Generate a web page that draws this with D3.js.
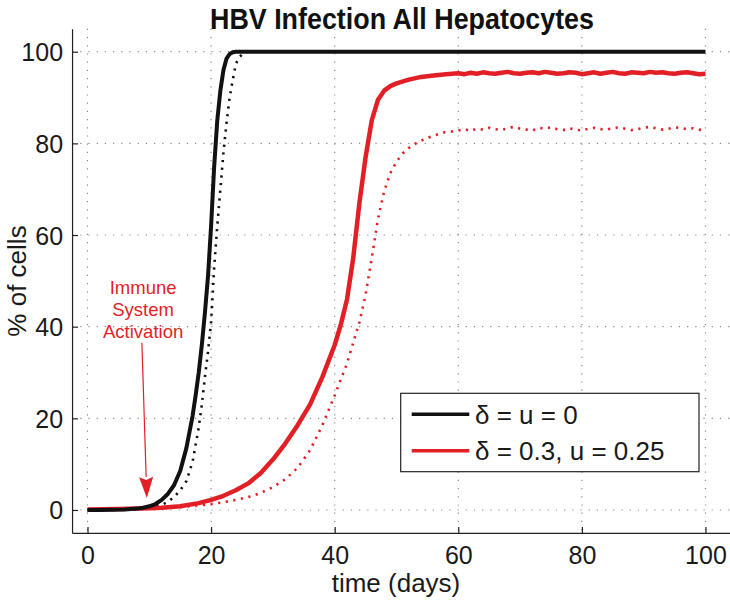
<!DOCTYPE html>
<html>
<head>
<meta charset="utf-8">
<script src="https://cdn.jsdelivr.net/npm/d3@7"></script>
<style>
html,body{margin:0;padding:0;background:#fff;}
svg{display:block;font-family:"Liberation Sans",Arial,Helvetica,sans-serif;}
</style>
</head>
<body>
<svg id="chart" width="730" height="603"></svg>
<script>
// ---------------- data ----------------
const titleText = "HBV Infection All Hepatocytes";
const xLabelText = "time (days)";
const yLabelText = "% of cells";
const xTicks = [0, 20, 40, 60, 80, 100];
const yTicks = [0, 20, 40, 60, 80, 100];
const legendLabels = ["\u03b4 = u = 0", "\u03b4 = 0.3, u = 0.25"];

const blackSolidT = [0,2,4,6,8,9,10,11,12,13,14,15,16,17,17.5,18,18.5,19,19.5,20,20.5,21,21.5,22,22.5,23,23.5,24,30,40,50,60,70,80,90,100];
const blackSolidV = [0,0.02,0.05,0.12,0.3,0.5,0.8,1.3,2.2,3.5,5.4,8.5,13.5,20.5,25,30,36,43,51,62,75,85,91.5,96,98.5,99.5,99.9,100,100,100,100,100,100,100,100,100];

const blackDotT = [0,4,8,10,11,12,13,14,15,16,17,18,18.5,19,19.5,20,20.5,21,21.5,22,22.5,23,23.5,24,24.5,25,25.5,26,30,40,50,60,70,80,90,100];
const blackDotV = [0,0.03,0.15,0.4,0.7,1.1,1.8,2.8,4.3,6.3,10.5,18,23,29,34.5,41,53,62,70,78,84.5,90,93.8,97.3,98.7,99.4,99.8,100,100,100,100,100,100,100,100,100];

const redSolidT = [0,5,10,12,15,18,20,22,24,26,28,30,32,34,36,38,40,41,42,43,44,45,46,47,48,49,50,52,54,56,58,
  60,61,62,63,64,65,66,67,68,69,70,71,72,73,74,75,76,77,78,79,80,81,82,83,84,85,86,87,88,89,90,91,92,93,94,95,96,97,98,99,100];
const redSolidV = [0.1,0.2,0.4,0.5,0.8,1.5,2.2,3.1,4.3,5.8,8,11,14.5,18.5,23,29,36,40.5,46,55,67,77,85,89.5,91.5,92.5,93.1,93.9,94.5,94.8,95.1,
  95.3,95.1,95.4,95.2,95.5,95.3,95.2,95.4,95.6,95.3,95.2,95.4,95.5,95.3,95.6,95.4,95.2,95.3,95.5,95.4,95.1,95.3,95.5,95.2,95.4,95.6,95.3,95.2,95.5,95.4,95.3,95.6,95.4,95.5,95.3,95.2,95.4,95.5,95.3,95.1,95.2];

const redDotT = [0,5,10,15,18,20,22,24,26,28,30,32,34,36,38,40,42,43,44,45,46,47,48,49,50,51,52,53,54,55,56,57,58,59,
  60,61,62,63,64,65,66,67,68,69,70,71,72,73,74,75,76,77,78,79,80,81,82,83,84,85,86,87,88,89,90,91,92,93,94,95,96,97,98,99,100];
const redDotV = [0.05,0.1,0.3,0.6,1,1.3,1.7,2.2,2.8,3.7,5,6.7,9.2,13,18.5,25,32,36.5,41,47,55,63.5,69.5,73.5,76,77.8,79,79.9,80.6,81.2,81.7,82.1,82.5,82.6,
  82.8,83.1,82.7,83.2,83.0,83.4,83.1,82.9,83.3,83.6,83.2,83.0,82.8,83.4,83.2,83.5,83.1,82.9,83.3,83.0,82.8,83.2,83.4,83.1,83.0,83.3,83.5,83.2,82.9,83.1,83.4,83.6,83.3,83.0,83.2,83.5,83.4,83.1,83.3,83.0,82.8];

// annotation (data coordinates)
const annoLines = ["Immune", "System", "Activation"];
const annoTextX = 9.0;
const arrowFrom = [8.8, 36.5];
const arrowTo = [9.6, 2.6];

// ---------------- drawing ----------------
const RED = "#e31f26", BLACK = "#111111";
const svg = d3.select("#chart");
const x = d3.scaleLinear().domain([-2.5, 104]).range([72.05, 730.2]);
const y = d3.scaleLinear().domain([-5, 105]).range([532.9, 28.8]);

// grid
const grid = svg.append("g").attr("stroke", "#8a8a8a").attr("stroke-width", 1.2).attr("stroke-dasharray", "1.2,7");
grid.selectAll("line.v").data(xTicks).join("line").attr("class","v")
  .attr("x1", d => x(d)).attr("x2", d => x(d)).attr("y1", y(105)).attr("y2", y(-5));
grid.selectAll("line.h").data(yTicks).join("line").attr("class","h")
  .attr("y1", d => y(d)).attr("y2", d => y(d)).attr("x1", x(-2.5)).attr("x2", x(104));

// axes
const xAxis = svg.append("g").attr("transform", `translate(0,${y(-5)})`)
  .call(d3.axisBottom(x).tickValues(xTicks).tickSizeInner(-6).tickSizeOuter(0).tickPadding(13.5));
const yAxis = svg.append("g").attr("transform", `translate(${x(-2.5)},0)`)
  .call(d3.axisLeft(y).tickValues(yTicks).tickSizeInner(-6).tickSizeOuter(0).tickPadding(9));
[xAxis, yAxis].forEach(a => {
  a.selectAll("path.domain").attr("stroke", "#222").attr("stroke-width", 1.2);
  a.selectAll(".tick line").attr("stroke", "#222").attr("stroke-width", 1.2);
  a.selectAll(".tick text").attr("fill", "#1a1a1a").style("font-size", "25px")
    .style("font-family", '"Liberation Sans",Arial,sans-serif');
});
yAxis.selectAll(".tick text").attr("dy", "0.36em");

// lines
const line = d3.line().x(d => x(d[0])).y(d => y(d[1]));
const zip = (t, v) => t.map((d, i) => [d, v[i]]);
const plotG = svg.append("g");
plotG.append("path").datum(zip(redDotT, redDotV)).attr("d", line)
  .attr("fill", "none").attr("stroke", RED).attr("stroke-width", 2.6).attr("stroke-dasharray", "2.2,5.5");
plotG.append("path").datum(zip(blackDotT, blackDotV)).attr("d", line)
  .attr("fill", "none").attr("stroke", BLACK).attr("stroke-width", 2.6).attr("stroke-dasharray", "2.2,5.5");
plotG.append("path").datum(zip(redSolidT, redSolidV)).attr("d", line)
  .attr("fill", "none").attr("stroke", RED).attr("stroke-width", 4.5).attr("stroke-linejoin", "round");
plotG.append("path").datum(zip(blackSolidT, blackSolidV)).attr("d", line)
  .attr("fill", "none").attr("stroke", BLACK).attr("stroke-width", 4).attr("stroke-linejoin", "round");

// title and labels
svg.append("text").attr("x", 402).attr("y", 29).attr("text-anchor", "middle")
  .attr("font-weight", "bold").attr("font-size", 29).attr("fill", "#111")
  .attr("textLength", 384).attr("lengthAdjust", "spacingAndGlyphs").text(titleText);
svg.append("text").attr("x", 396).attr("y", 592).attr("text-anchor", "middle")
  .attr("font-size", 26).attr("fill", "#1a1a1a").text(xLabelText);
svg.append("text").attr("transform", "translate(26,281) rotate(-90)").attr("text-anchor", "middle")
  .attr("font-size", 26).attr("fill", "#1a1a1a").text(yLabelText);

// annotation
const ann = svg.append("g");
ann.selectAll("text").data(annoLines).join("text")
  .attr("x", x(annoTextX)).attr("y", (d, i) => 294 + i * 22).attr("text-anchor", "middle")
  .attr("font-size", 18.5).attr("fill", RED).text(d => d);
{
  const x1 = x(arrowFrom[0]), y1 = y(arrowFrom[1]), x2 = x(arrowTo[0]), y2 = y(arrowTo[1]);
  const ang = Math.atan2(y2 - y1, x2 - x1), L = 21, W = 7;
  const bx = x2 - L * Math.cos(ang), by = y2 - L * Math.sin(ang);
  ann.append("line").attr("x1", x1).attr("y1", y1).attr("x2", bx).attr("y2", by)
    .attr("stroke", RED).attr("stroke-width", 1.2);
  const px = -Math.sin(ang) * W, py = Math.cos(ang) * W;
  ann.append("path").attr("d", `M${x2},${y2}L${bx+px},${by+py}L${bx + 3*Math.cos(ang)},${by + 3*Math.sin(ang)}L${bx-px},${by-py}Z`)
    .attr("fill", RED);
}

// legend
const lg = svg.append("g");
lg.append("rect").attr("x", 400.7).attr("y", 393.3).attr("width", 298.3).attr("height", 78.4)
  .attr("fill", "#fff").attr("stroke", "#222").attr("stroke-width", 1.2);
const legColors = [BLACK, RED];
const legY = [414.3, 450.7];
legendLabels.forEach((lab, i) => {
  lg.append("line").attr("x1", 411.7).attr("x2", 469.3).attr("y1", legY[i]).attr("y2", legY[i])
    .attr("stroke", legColors[i]).attr("stroke-width", 3.6);
  lg.append("text").attr("x", 475).attr("y", legY[i] + 9.5).attr("font-size", 26)
    .attr("fill", "#1a1a1a").text(lab);
});
</script>
</body>
</html>
